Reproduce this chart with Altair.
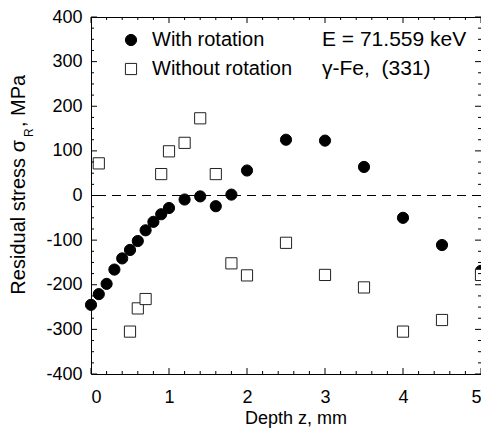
import altair as alt
import pandas as pd

# ---- data ----
series_names = ["With rotation", "Without rotation"]

z_with = [0.0, 0.1, 0.2, 0.3, 0.4, 0.5, 0.6, 0.7, 0.8, 0.9, 1.0, 1.2, 1.4, 1.6, 1.8,
          2.0, 2.5, 3.0, 3.5, 4.0, 4.5, 5.0]
s_with = [-245, -221, -198, -166, -141, -122, -102, -78, -59, -42, -28, -9, -2, -24, 2,
          56, 125, 123, 64, -50, -111, -169]

z_without = [0.1, 0.5, 0.6, 0.7, 0.9, 1.0, 1.2, 1.4, 1.6, 1.8, 2.0, 2.5, 3.0, 3.5, 4.0, 4.5, 5.0]
s_without = [72, -305, -253, -232, 48, 99, 118, 173, 48, -152, -179, -106, -178, -206, -305, -279, -178]

x_ticks = [0, 1, 2, 3, 4, 5]
y_ticks = [-400, -300, -200, -100, 0, 100, 200, 300, 400]
x_minor = [0.2, 0.4, 0.6, 0.8, 1.2, 1.4, 1.6, 1.8, 2.2, 2.4, 2.6, 2.8,
           3.2, 3.4, 3.6, 3.8, 4.2, 4.4, 4.6, 4.8]
y_minor = [v for v in range(-400, 401, 25) if v % 100 != 0]

x_title = "Depth z, mm"
y_title_main = "Residual stress σ"
y_title_sub = "R"
y_title_tail = ", MPa"
note1 = "E = 71.559 keV"
note2 = "γ-Fe,\u00a0 (331)"

FONT = "Liberation Sans"
W, H = 390, 357
TOP = 9

df = pd.DataFrame({
    "z": z_with + z_without,
    "s": s_with + s_without,
    "series": [series_names[0]] * len(z_with) + [series_names[1]] * len(z_without),
})

xscale = alt.Scale(domain=[0, 5], nice=False, zero=False)
yscale = alt.Scale(domain=[-400, 400], nice=False, zero=False)

lab_x = alt.Axis(values=x_ticks, ticks=False, domain=False, grid=False,
                 labelFontSize=18, labelFont=FONT, labelColor="black", labelPadding=14,
                 title=None, labelExpr="'' + datum.value")
lab_y = alt.Axis(values=y_ticks, ticks=False, domain=False, grid=False,
                 labelFontSize=18, labelFont=FONT, labelColor="black", labelPadding=9,
                 title=None, labelExpr="'' + datum.value")

legend = alt.Legend(orient="none", legendX=30, legendY=13, title=None,
                    labelFontSize=20, labelFont=FONT, labelColor="black",
                    symbolSize=125, labelOffset=11, rowPadding=9, padding=0,
                    symbolStrokeColor="black", symbolStrokeWidth=1)

zero_rule = alt.Chart(pd.DataFrame({"y": [0]})).mark_rule(
    color="black", strokeWidth=1, strokeDash=[9, 6]
).encode(y=alt.Y("y:Q", scale=yscale, axis=lab_y))

points = alt.Chart(df).mark_point(size=125, strokeWidth=1, opacity=1,
                                  fillOpacity=1).encode(
    x=alt.X("z:Q", scale=xscale, axis=lab_x),
    y=alt.Y("s:Q", scale=yscale, axis=lab_y),
    shape=alt.Shape("series:N", scale=alt.Scale(domain=series_names, range=["circle", "square"]),
                    legend=legend),
    fill=alt.Fill("series:N", scale=alt.Scale(domain=series_names, range=["black", "white"]),
                  legend=legend),
    stroke=alt.Stroke("series:N", scale=alt.Scale(domain=series_names, range=["black", "#222222"]),
                      legend=legend),
)


def xticks(values, length, top):
    base = alt.Chart(pd.DataFrame({"v": values})).mark_rule(color="black", strokeWidth=1)
    if top:
        yy, yy2 = 0, length
    else:
        yy, yy2 = H, H - length
    return base.encode(x=alt.X("v:Q", scale=xscale, axis=lab_x),
                       y=alt.value(yy), y2=alt.value(yy2))


def yticks(values, length, right):
    base = alt.Chart(pd.DataFrame({"v": values})).mark_rule(color="black", strokeWidth=1)
    if right:
        xx, xx2 = W, W - length
    else:
        xx, xx2 = 0, length
    return base.encode(y=alt.Y("v:Q", scale=yscale, axis=lab_y),
                       x=alt.value(xx), x2=alt.value(xx2))


def label(text, x, y, size=20, angle=0, align="left"):
    return alt.Chart(pd.DataFrame({"t": [text]})).mark_text(
        font=FONT, fontSize=size, color="black", angle=angle, align=align,
        baseline="alphabetic"
    ).encode(x=alt.value(x), y=alt.value(y), text="t:N")


chart = alt.layer(
    points,
    zero_rule,
    xticks(x_ticks, 6, False), xticks(x_ticks, 6, True),
    xticks(x_minor, 3, False), xticks(x_minor, 3, True),
    yticks(y_ticks, 6, False), yticks(y_ticks, 6, True),
    yticks(y_minor, 3, False), yticks(y_minor, 3, True),
    label(note1, 231, 29, size=21),
    label(note2, 231, 58, size=21),
    label(x_title, 205, 407, size=18, align="center"),
    label(y_title_main, -66, 123, angle=270, align="right"),
    label(y_title_sub, -58, 120, size=12, angle=270, align="left"),
    label(y_title_tail, -66, 110, angle=270, align="left"),
).properties(
    width=W, height=H,
    autosize=alt.AutoSizeParams(type="none"),
    padding={"left": 83, "top": TOP, "right": 0, "bottom": 58},
).configure(font=FONT).configure_view(stroke="black", strokeWidth=1)

chart.save("out.html", embed_options={"renderer": "svg", "actions": False})
